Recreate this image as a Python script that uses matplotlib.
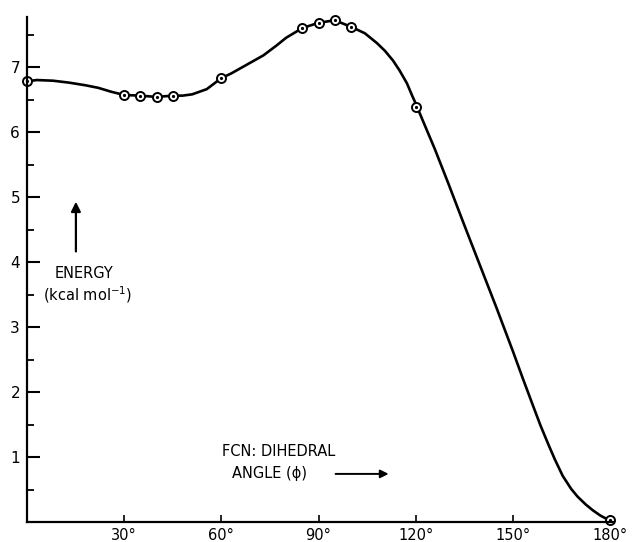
import matplotlib
matplotlib.use("Agg")
import matplotlib.pyplot as plt

# computed points (dihedral angle, energy)
angle = [0, 30, 35, 40, 45, 60, 85, 90, 95, 100, 120, 180]
energy = [6.78, 6.57, 6.56, 6.54, 6.56, 6.83, 7.6, 7.68, 7.72, 7.62, 6.38, 0.03]

# smooth curve
curve_angle = [0, 3, 8, 13, 18, 22, 26, 30, 35, 40, 45, 48, 51, 55.5, 60, 63,
               68, 73, 77, 80, 85, 90, 95, 100, 104.3, 108, 110.5, 113, 115,
               117.3, 119, 120, 122, 125.9, 130, 135, 140, 145, 150, 153, 156,
               158.5, 161, 163, 165.4, 168, 170, 172.5, 174.7, 177, 178.5, 180]
curve_energy = [6.78, 6.8, 6.79, 6.76, 6.72, 6.68, 6.62, 6.57, 6.56, 6.54,
                6.56, 6.56, 6.58, 6.66, 6.83, 6.9, 7.04, 7.18, 7.33, 7.45, 7.6,
                7.68, 7.72, 7.62, 7.52, 7.37, 7.25, 7.1, 6.95, 6.75, 6.55,
                6.44, 6.2, 5.74, 5.22, 4.57, 3.93, 3.29, 2.63, 2.22, 1.82,
                1.49, 1.19, 0.96, 0.71, 0.51, 0.39, 0.27, 0.18, 0.1, 0.06, 0.03]

yticks = [1, 2, 3, 4, 5, 6, 7]
yminor = [0.5, 1.5, 2.5, 3.5, 4.5, 5.5, 6.5, 7.5]
xticks = [30, 60, 90, 120, 150, 180]
xlabels = ["30°", "60°", "90°", "120°", "150°", "180°"]


def main():
    fig = plt.figure(figsize=(6.4, 5.42), dpi=100)
    ax = fig.add_axes([27 / 640, 20 / 542, 583 / 640, 505 / 542])

    ax.plot(curve_angle, curve_energy, color="black", lw=1.9,
            solid_capstyle="round", solid_joinstyle="round", clip_on=False)
    ax.plot(angle, energy, "o", ms=6.5, mfc="white", mec="black", mew=1.4,
            clip_on=False)
    ax.plot(angle, energy, "o", ms=1.3, color="black", clip_on=False)

    ax.set_xlim(0, 180)
    ax.set_ylim(0, 7.77)
    ax.spines["top"].set_visible(False)
    ax.spines["right"].set_visible(False)
    ax.spines["left"].set_linewidth(1.6)
    ax.spines["bottom"].set_linewidth(1.6)
    ax.spines["bottom"].set_bounds(0, 181)

    ax.set_yticks(yticks)
    ax.set_yticks(yminor, minor=True)
    ax.set_yticklabels([str(v) for v in yticks])
    ax.set_xticks(xticks)
    ax.set_xticklabels(xlabels)
    ax.tick_params(axis="y", which="major", direction="in", length=9,
                   width=1.5, pad=5, labelsize=11)
    ax.tick_params(axis="y", which="minor", direction="in", length=5,
                   width=1.3)
    ax.tick_params(axis="x", which="major", direction="in", length=5,
                   width=1.2, pad=4, labelsize=10.5)

    ax.annotate("", xy=(15.1, 4.97), xytext=(15.1, 4.12),
                arrowprops=dict(arrowstyle="-|>", color="black", lw=1.6,
                                mutation_scale=14))
    ax.text(17.6, 3.83, "ENERGY", ha="center", va="center", fontsize=10.5)
    ax.text(18.7, 3.5, "(kcal mol$^{-1}$)", ha="center", va="center",
            fontsize=10.5)

    ax.text(60.2, 1.08, "FCN: DIHEDRAL", ha="left", va="center",
            fontsize=10.5)
    ax.text(63.3, 0.74, "ANGLE (ϕ)", ha="left", va="center", fontsize=10.5)
    ax.annotate("", xy=(112.5, 0.74), xytext=(94.4, 0.74),
                arrowprops=dict(arrowstyle="-|>", color="black", lw=1.4,
                                mutation_scale=12))

    fig.savefig("out.png", dpi=100)


if __name__ == "__main__":
    main()
